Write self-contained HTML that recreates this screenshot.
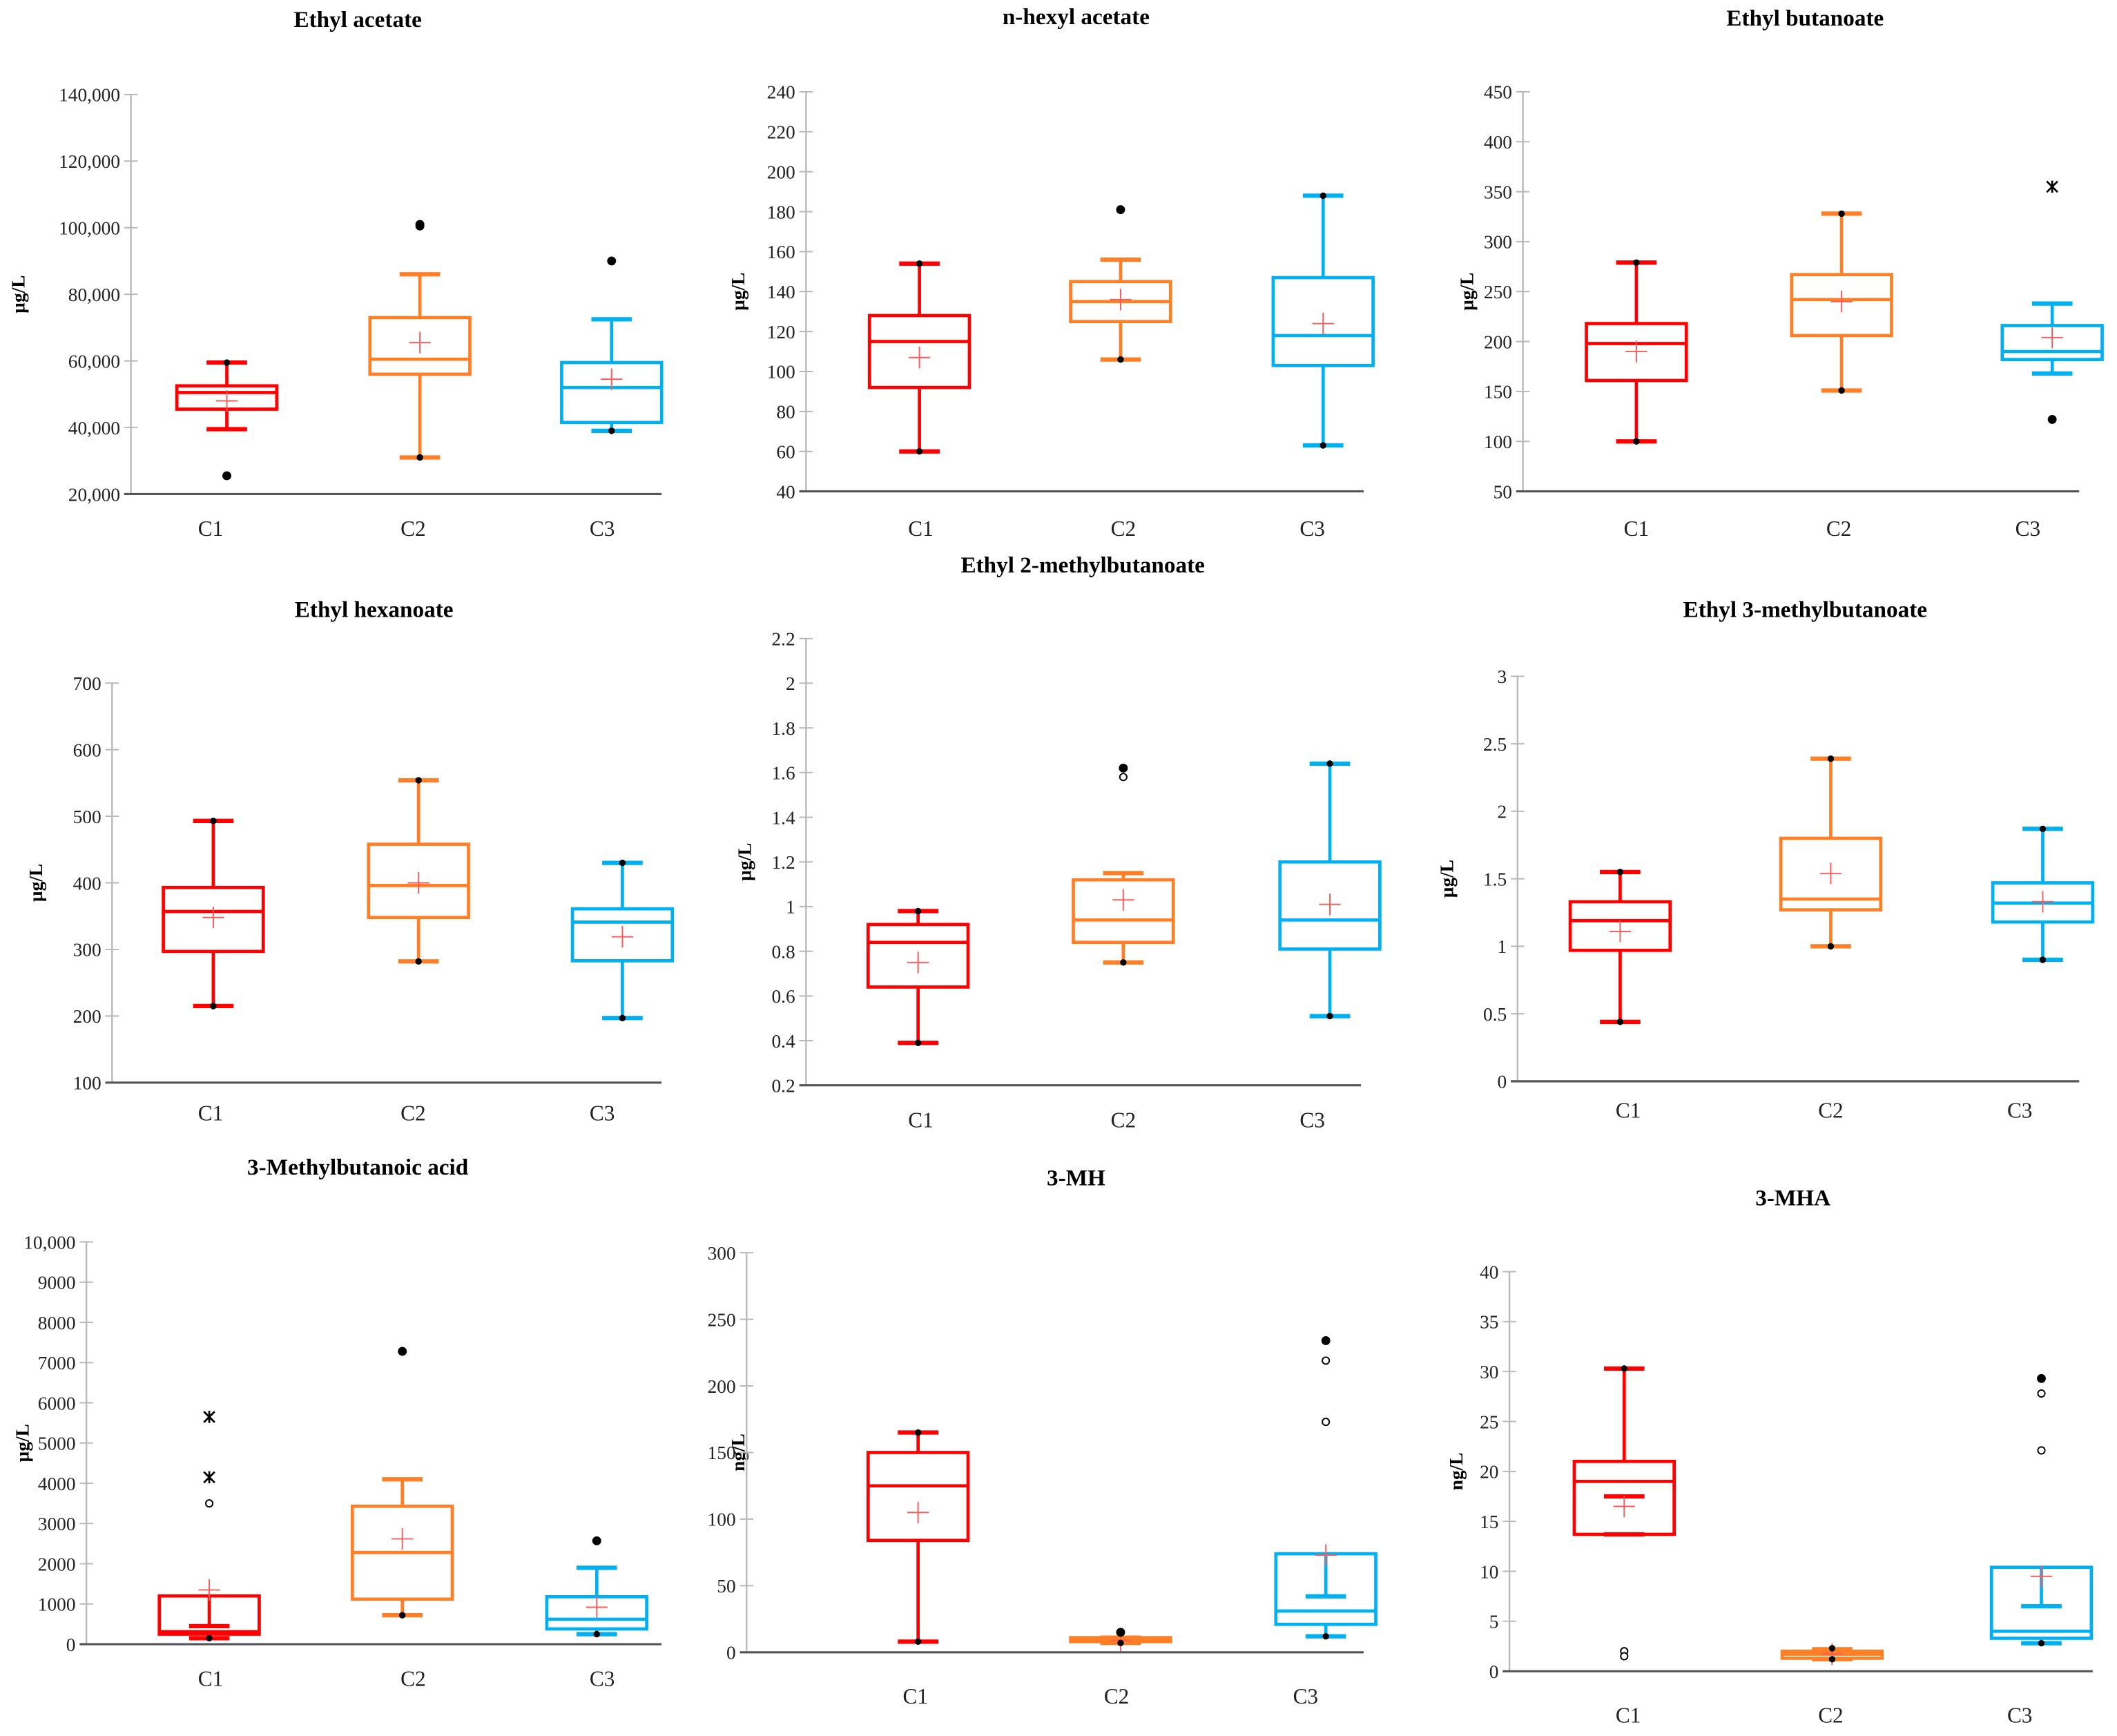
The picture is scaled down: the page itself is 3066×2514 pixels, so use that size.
<!DOCTYPE html>
<html><head><meta charset="utf-8"><style>
html,body{margin:0;padding:0;background:#fff;}
svg{display:block;font-family:"Liberation Serif",serif;}
</style></head><body>
<svg id="fig" width="3066" height="2514" viewBox="0 0 1568 1286" preserveAspectRatio="none" xmlns="http://www.w3.org/2000/svg"></svg>
<script>
const categories = ["C1","C2","C3"];
const colors = ["#ff0000","#ff7f27","#00b0f0"];

// Panel 1 Ethyl acetate
const p1Lo=[39500,31000,39000], p1Q1=[45500,56000,41500], p1Med=[50500,60500,52000], p1Q3=[52500,73000,59500], p1Hi=[59500,86000,72500], p1Mean=[48000,65500,54500];
const p1Out=[[0,59500,"d"],[0,25500,"D"],[1,101000,"D"],[1,100500,"D"],[1,31000,"d"],[2,90000,"D"],[2,39000,"d"]];
const p1Ticks=["20,000","40,000","60,000","80,000","100,000","120,000","140,000"];
// Panel 2 n-hexyl acetate
const p2Lo=[60,106,63], p2Q1=[92,125,103], p2Med=[115,135,118], p2Q3=[128,145,147], p2Hi=[154,156,188], p2Mean=[107,136,124];
const p2Out=[[0,154,"d"],[0,60,"d"],[1,181,"D"],[1,106,"d"],[2,188,"d"],[2,63,"d"]];
const p2Ticks=["40","60","80","100","120","140","160","180","200","220","240"];
// Panel 3 Ethyl butanoate
const p3Lo=[100,151,168], p3Q1=[161,206,182], p3Med=[198,242,190], p3Q3=[218,267,216], p3Hi=[279,328,238], p3Mean=[190,240,204];
const p3Out=[[0,279,"d"],[0,100,"d"],[1,328,"d"],[1,151,"d"],[2,355,"x"],[2,122,"D"]];
const p3Ticks=["50","100","150","200","250","300","350","400","450"];
// Panel 4 Ethyl hexanoate
const p4Lo=[215,282,197], p4Q1=[297,348,283], p4Med=[357,396,341], p4Q3=[393,458,361], p4Hi=[493,554,430], p4Mean=[348,400,319];
const p4Out=[[0,493,"d"],[0,215,"d"],[1,554,"d"],[1,282,"d"],[2,430,"d"],[2,197,"d"]];
const p4Ticks=["100","200","300","400","500","600","700"];
// Panel 5 Ethyl 2-methylbutanoate
const p5Lo=[0.39,0.75,0.51], p5Q1=[0.64,0.84,0.81], p5Med=[0.84,0.94,0.94], p5Q3=[0.92,1.12,1.20], p5Hi=[0.98,1.15,1.64], p5Mean=[0.75,1.03,1.01];
const p5Out=[[0,0.98,"d"],[0,0.39,"d"],[1,1.62,"D"],[1,1.58,"o"],[1,0.75,"d"],[2,1.64,"d"],[2,0.51,"d"]];
const p5Ticks=["0.2","0.4","0.6","0.8","1","1.2","1.4","1.6","1.8","2","2.2"];
// Panel 6 Ethyl 3-methylbutanoate
const p6Lo=[0.44,1.0,0.9], p6Q1=[0.97,1.27,1.18], p6Med=[1.19,1.35,1.32], p6Q3=[1.33,1.80,1.47], p6Hi=[1.55,2.39,1.87], p6Mean=[1.11,1.54,1.33];
const p6Out=[[0,1.55,"d"],[0,0.44,"d"],[1,2.39,"d"],[1,1.0,"d"],[2,1.87,"d"],[2,0.9,"d"]];
const p6Ticks=["0","0.5","1","1.5","2","2.5","3"];
// Panel 7 3-Methylbutanoic acid
const p7Lo=[150,720,250], p7Q1=[250,1120,380], p7Med=[310,2280,620], p7Q3=[1200,3430,1180], p7Hi=[450,4100,1900], p7Mean=[1350,2620,920];
const p7Out=[[0,5650,"x"],[0,4150,"x"],[0,3500,"o"],[0,150,"d"],[1,7280,"D"],[1,720,"d"],[2,2570,"D"],[2,250,"d"]];
const p7Ticks=["0","1000","2000","3000","4000","5000","6000","7000","8000","9000","10,000"];
// Panel 8 3-MH
const p8Lo=[8,7,12], p8Q1=[84,8,21], p8Med=[125,9,31], p8Q3=[150,11,74], p8Hi=[165,11,42], p8Mean=[105,9,73];
const p8Out=[[0,165,"d"],[0,8,"d"],[1,15,"D"],[1,7,"d"],[2,234,"D"],[2,219,"o"],[2,173,"o"],[2,12,"d"]];
const p8Ticks=["0","50","100","150","200","250","300"];
// Panel 9 3-MHA
const p9Lo=[13.7,1.2,2.8], p9Q1=[13.7,1.3,3.3], p9Med=[19,1.7,4], p9Q3=[21,2.0,10.4], p9Hi=[30.3,2.2,6.5], p9Mean=[16.5,1.7,9.5];
const p9Cap2=[17.5,null,null];
const p9Out=[[0,30.3,"d"],[0,2,"o"],[0,1.5,"o"],[1,2.3,"d"],[1,1.2,"d"],[2,29.3,"D"],[2,27.8,"o"],[2,22.1,"o"],[2,2.8,"d"]];
const p9Ticks=["0","5","10","15","20","25","30","35","40"];

const NS="http://www.w3.org/2000/svg";
const svg=document.getElementById("fig");
function el(tag,attrs,parent){const e=document.createElementNS(NS,tag);for(const k in attrs)e.setAttribute(k,attrs[k]);(parent||svg).appendChild(e);return e;}

const panels=[
 {id:"ethyl-acetate",title:"Ethyl acetate",tx:265,ty:15,ax:97,yT:70,yB:366,xE:490,min:20000,max:140000,ticks:p1Ticks,cx:[168,311,453],lx:[156,306,446],ly:391,ylab:"µg/L",ylx:15,lo:p1Lo,q1:p1Q1,med:p1Med,q3:p1Q3,hi:p1Hi,mean:p1Mean,out:p1Out},
 {id:"n-hexyl-acetate",title:"n-hexyl acetate",tx:797,ty:13,ax:597,yT:68,yB:364,xE:1010,min:40,max:240,ticks:p2Ticks,cx:[681,830,980],lx:[682,832,972],ly:391,ylab:"µg/L",ylx:548,lo:p2Lo,q1:p2Q1,med:p2Med,q3:p2Q3,hi:p2Hi,mean:p2Mean,out:p2Out},
 {id:"ethyl-butanoate",title:"Ethyl butanoate",tx:1337,ty:14,ax:1128,yT:68,yB:364,xE:1540,min:50,max:450,ticks:p3Ticks,cx:[1212,1364,1520],lx:[1212,1362,1502],ly:391,ylab:"µg/L",ylx:1088,lo:p3Lo,q1:p3Q1,med:p3Med,q3:p3Q3,hi:p3Hi,mean:p3Mean,out:p3Out},
 {id:"ethyl-hexanoate",title:"Ethyl hexanoate",tx:277,ty:452,ax:83,yT:506,yB:802,xE:490,min:100,max:700,ticks:p4Ticks,cx:[158,310,461],lx:[156,306,446],ly:824,ylab:"µg/L",ylx:28,lo:p4Lo,q1:p4Q1,med:p4Med,q3:p4Q3,hi:p4Hi,mean:p4Mean,out:p4Out},
 {id:"ethyl-2-methylbutanoate",title:"Ethyl 2-methylbutanoate",tx:802,ty:419,ax:597,yT:473,yB:804,xE:1008,min:0.2,max:2.2,ticks:p5Ticks,cx:[680,832,985],lx:[682,832,972],ly:829,ylab:"µg/L",ylx:553,lo:p5Lo,q1:p5Q1,med:p5Med,q3:p5Q3,hi:p5Hi,mean:p5Mean,out:p5Out},
 {id:"ethyl-3-methylbutanoate",title:"Ethyl 3-methylbutanoate",tx:1337,ty:452,ax:1124,yT:501,yB:801,xE:1540,min:0,max:3,ticks:p6Ticks,cx:[1200,1356,1513],lx:[1206,1356,1496],ly:822,ylab:"µg/L",ylx:1073,lo:p6Lo,q1:p6Q1,med:p6Med,q3:p6Q3,hi:p6Hi,mean:p6Mean,out:p6Out},
 {id:"3-methylbutanoic-acid",title:"3-Methylbutanoic acid",tx:265,ty:865,ax:64,yT:920,yB:1218,xE:490,min:0,max:10000,ticks:p7Ticks,cx:[155,298,442],lx:[156,306,446],ly:1243,ylab:"µg/L",ylx:18,lo:p7Lo,q1:p7Q1,med:p7Med,q3:p7Q3,hi:p7Hi,mean:p7Mean,out:p7Out},
 {id:"3-mh",title:"3-MH",tx:797,ty:873,ax:553,yT:928,yB:1224,xE:1010,min:0,max:300,ticks:p8Ticks,cx:[680,830,982],lx:[678,827,967],ly:1256,ylab:"ng/L",ylx:548,lo:p8Lo,q1:p8Q1,med:p8Med,q3:p8Q3,hi:p8Hi,mean:p8Mean,out:p8Out},
 {id:"3-mha",title:"3-MHA",tx:1328,ty:888,ax:1118,yT:942,yB:1238,xE:1550,min:0,max:40,ticks:p9Ticks,cx:[1203,1357,1512],lx:[1206,1356,1496],ly:1270,ylab:"ng/L",ylx:1080,lo:p9Lo,q1:p9Q1,med:p9Med,q3:p9Q3,hi:p9Hi,mean:p9Mean,out:p9Out,cap2:p9Cap2}
];

panels.forEach(p=>{
  const g=el("g",{});
  
  
  const y=v=>p.yB-(v-p.min)/(p.max-p.min)*(p.yB-p.yT);
  const t=el("text",{x:p.tx,y:p.ty+5,"text-anchor":"middle","font-size":17,"font-weight":"bold",fill:"#000"},g);
  t.textContent=p.title;
  
  
  const ym=(p.yT+p.yB)/2;
  const yl=el("text",{x:p.ylx,y:ym,"text-anchor":"middle","font-size":14,"font-weight":"bold",transform:`rotate(-90 ${p.ylx} ${ym})`,"dominant-baseline":"middle"},g);
  yl.textContent=p.ylab;
  
  
  const ya=el("line",{x1:p.ax,y1:p.yT,x2:p.ax,y2:p.yB,stroke:"#b8b8b8","stroke-width":1.2},g);
  
  
  const n=p.ticks.length;
  p.ticks.forEach((lab,i)=>{
    const v=p.min+(p.max-p.min)*i/(n-1);
    const yy=y(v);
    el("line",{x1:p.ax-5,y1:yy,x2:p.ax+5,y2:yy,stroke:"#b8b8b8","stroke-width":1},g);
    const tl=el("text",{x:p.ax-8,y:yy+5,"text-anchor":"end","font-size":14,fill:"#222"},g);
    tl.textContent=lab;
    
    
  });
  const xa=el("line",{x1:p.ax-5,y1:p.yB,x2:p.xE,y2:p.yB,stroke:"#555","stroke-width":1.6},g);
  
  
  categories.forEach((c,i)=>{
    const cl=el("text",{x:p.lx[i],y:p.ly+6,"text-anchor":"middle","font-size":16,fill:"#222"},g);
    cl.textContent=c;
    
    
    const col=colors[i], cx=p.cx[i], bw=37, cw=15, sw=2.4;
    const bg=el("g",{},g);
    
    
    // whiskers
    el("line",{x1:cx,y1:y(p.hi[i]),x2:cx,y2:y(p.q3[i]),stroke:col,"stroke-width":sw},bg);
    el("line",{x1:cx,y1:y(p.lo[i]),x2:cx,y2:y(p.q1[i]),stroke:col,"stroke-width":sw},bg);
    el("line",{x1:cx-cw,y1:y(p.hi[i]),x2:cx+cw,y2:y(p.hi[i]),stroke:col,"stroke-width":sw+0.8},bg);
    el("line",{x1:cx-cw,y1:y(p.lo[i]),x2:cx+cw,y2:y(p.lo[i]),stroke:col,"stroke-width":sw+0.8},bg);
    if(p.cap2&&p.cap2[i]!=null){el("line",{x1:cx-cw,y1:y(p.cap2[i]),x2:cx+cw,y2:y(p.cap2[i]),stroke:col,"stroke-width":sw+0.8},bg);}
    el("rect",{x:cx-bw,y:y(p.q3[i]),width:bw*2,height:Math.max(1,y(p.q1[i])-y(p.q3[i])),fill:"none",stroke:col,"stroke-width":sw},bg);
    el("line",{x1:cx-bw,y1:y(p.med[i]),x2:cx+bw,y2:y(p.med[i]),stroke:col,"stroke-width":sw},bg);
    const my=y(p.mean[i]);
    el("line",{x1:cx-8,y1:my,x2:cx+8,y2:my,stroke:"#ff5a5a","stroke-width":1},bg);
    el("line",{x1:cx,y1:my-8,x2:cx,y2:my+8,stroke:"#ff5a5a","stroke-width":1},bg);
  });
  p.out.forEach(o=>{
    const cx=p.cx[o[0]], yy=y(o[1]);
    let m;
    if(o[2]==="d") m=el("circle",{cx:cx,cy:yy,r:2.4,fill:"#000"},g);
    else if(o[2]==="D") m=el("circle",{cx:cx,cy:yy,r:3.3,fill:"#000"},g);
    else if(o[2]==="o") m=el("circle",{cx:cx,cy:yy,r:2.6,fill:"#fff",stroke:"#000","stroke-width":1},g);
    else {m=el("path",{d:`M${cx-4} ${yy-4}L${cx+4} ${yy+4}M${cx+4} ${yy-4}L${cx-4} ${yy+4}M${cx} ${yy-4.5}L${cx} ${yy+4.5}`,stroke:"#000","stroke-width":1.4},g);}
    
    
  });
});
</script>
</body></html>
